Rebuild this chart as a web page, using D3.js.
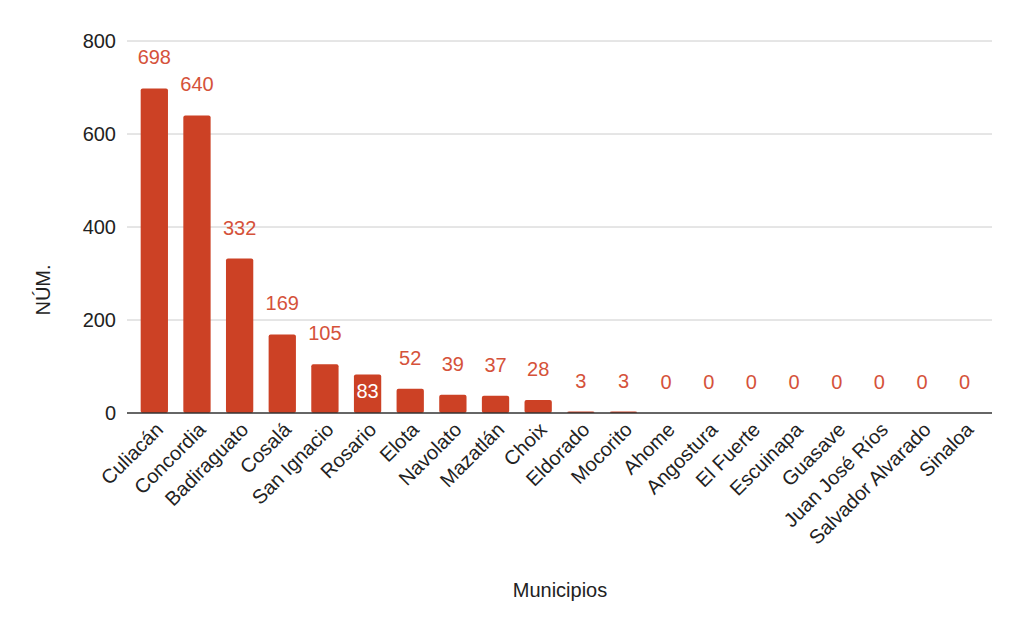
<!DOCTYPE html>
<html>
<head>
<meta charset="utf-8">
<script src="https://cdn.jsdelivr.net/npm/d3@7"></script>
<style>
  body { margin: 0; background: #fff; }
  text { font-family: Arial, "Liberation Sans", sans-serif; }
</style>
</head>
<body>
<svg id="chart" width="1024" height="633"></svg>
<script>
// data
var municipios = ["Culiacán", "Concordia", "Badiraguato", "Cosalá", "San Ignacio", "Rosario",
  "Elota", "Navolato", "Mazatlán", "Choix", "Eldorado", "Mocorito", "Ahome", "Angostura",
  "El Fuerte", "Escuinapa", "Guasave", "Juan José Ríos", "Salvador Alvarado", "Sinaloa"];
var valores = [698, 640, 332, 169, 105, 83, 52, 39, 37, 28, 3, 3, 0, 0, 0, 0, 0, 0, 0, 0];
var yTicks = [0, 200, 400, 600, 800];
var insideLabels = ["Rosario"]; // label drawn in the bar (collides outside)

var svg = d3.select('#chart');
var barColor = '#cc4125',
    labelColor = '#d5523a';

var x = d3.scaleBand()
    .domain(municipios)
    .range([133, 986])
    .paddingInner(0.36)
    .paddingOuter(0.18);

var y = d3.scaleLinear()
    .domain([0, 800])
    .range([413, 41]);

// gridlines
svg.append('g')
  .selectAll('line')
  .data(yTicks.filter(function(d) { return d > 0; }))
  .join('line')
    .attr('x1', 127).attr('x2', 992)
    .attr('y1', function(d) { return y(d); })
    .attr('y2', function(d) { return y(d); })
    .attr('stroke', '#cccccc')
    .attr('stroke-width', 1);

// y tick labels
svg.append('g')
  .selectAll('text')
  .data(yTicks)
  .join('text')
    .attr('x', 116)
    .attr('y', function(d) { return y(d); })
    .attr('dy', '0.35em')
    .attr('text-anchor', 'end')
    .attr('font-size', 20)
    .attr('fill', '#222')
    .text(function(d) { return d; });

// bars
svg.append('g')
  .selectAll('rect')
  .data(valores)
  .join('rect')
    .attr('x', function(d, i) { return x(municipios[i]); })
    .attr('width', x.bandwidth())
    .attr('y', function(d) { return y(d); })
    .attr('height', function(d) { return y(0) - y(d); })
    .attr('rx', 2)
    .attr('fill', barColor);

// baseline
svg.append('line')
    .attr('x1', 127).attr('x2', 992)
    .attr('y1', y(0)).attr('y2', y(0))
    .attr('stroke', '#333')
    .attr('stroke-width', 1.3);

// value labels
svg.append('g')
  .selectAll('text')
  .data(valores)
  .join('text')
    .attr('x', function(d, i) { return x(municipios[i]) + x.bandwidth() / 2; })
    .attr('y', function(d, i) {
        var inside = insideLabels.indexOf(municipios[i]) >= 0;
        return inside ? y(d) + 24 : y(d) - 24;
    })
    .attr('text-anchor', 'middle')
    .attr('font-family', 'Roboto, sans-serif')
    .attr('font-size', 20)
    .attr('fill', function(d, i) {
        return insideLabels.indexOf(municipios[i]) >= 0 ? '#fff' : labelColor;
    })
    .text(function(d) { return d; });

// x labels, rotated
svg.append('g')
  .selectAll('text')
  .data(municipios)
  .join('text')
    .attr('transform', function(d) {
        return 'translate(' + (x(d) + x.bandwidth() / 2 + 10) + ',431) rotate(-45)';
    })
    .attr('text-anchor', 'end')
    .attr('font-size', 20)
    .attr('fill', '#222')
    .text(function(d) { return d; });

// axis titles
svg.append('text')
    .attr('x', 560).attr('y', 597)
    .attr('text-anchor', 'middle')
    .attr('font-size', 20)
    .attr('fill', '#222')
    .text('Municipios');

svg.append('text')
    .attr('transform', 'translate(50,290) rotate(-90)')
    .attr('text-anchor', 'middle')
    .attr('font-size', 20)
    .attr('fill', '#222')
    .text('NÚM.');
</script>
</body>
</html>
